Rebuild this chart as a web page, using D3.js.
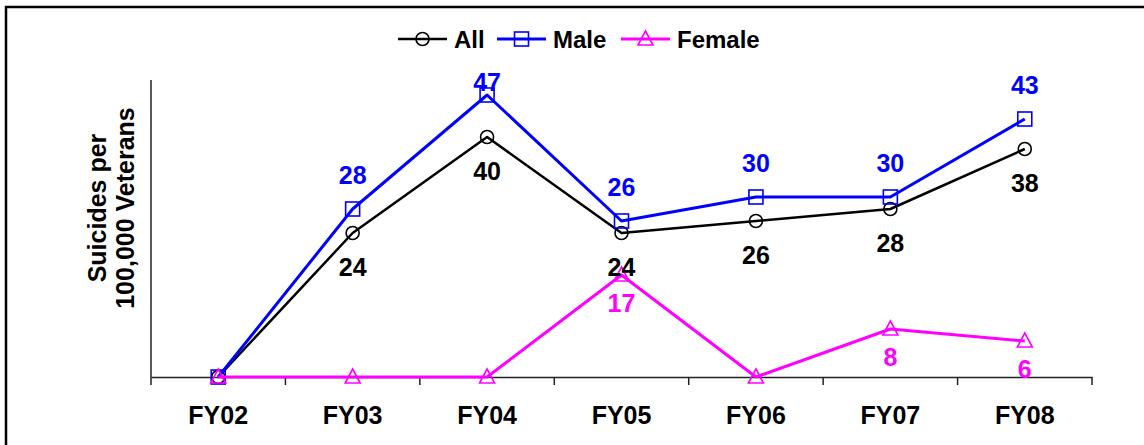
<!DOCTYPE html>
<html>
<head>
<meta charset="utf-8">
<script src="https://cdn.jsdelivr.net/npm/d3@7"></script>
<style>
  body { margin: 0; background: #fff; }
  text { font-family: Arial, "Liberation Sans", sans-serif; font-weight: bold; }
</style>
</head>
<body>
<svg id="fig" width="1144" height="445"></svg>
<script>
// chart values
const years = ["FY02", "FY03", "FY04", "FY05", "FY06", "FY07", "FY08"];
const allValues = [0, 24, 40, 24, 26, 28, 38];
const maleValues = [0, 28, 47, 26, 30, 30, 43];
const femaleValues = [0, 0, 0, 17, 0, 8, 6];
const seriesNames = ["All", "Male", "Female"];

const svg = d3.select("#fig");

// outer frame (runs off the right and bottom edges)
svg.append("rect")
    .attr("x", 6).attr("y", 7)
    .attr("width", 1160).attr("height", 460)
    .attr("fill", "none")
    .attr("stroke", "#000")
    .attr("stroke-width", 2.5);

const plotLeft = 151, plotRight = 1092, plotTop = 80, plotBottom = 377;

let xScale = d3.scaleBand()
    .domain(years)
    .range([plotLeft, plotRight]);

let yScale = d3.scaleLinear()
    .domain([0, 49.5])
    .range([plotBottom, plotTop]);

const cx = d => xScale(d) + xScale.bandwidth() / 2;

// axes
let xAxis = svg.append("g")
    .attr("transform", `translate(0,${plotBottom})`)
    .call(d3.axisBottom(xScale).tickSize(0).tickPadding(29));
xAxis.select(".domain").attr("stroke", "#222").attr("stroke-width", 1.5);
xAxis.selectAll("text")
    .attr("font-size", 25)
    .attr("fill", "#000");

// tick marks between categories
const boundaries = years.map(d => xScale(d)).concat([plotRight]);
svg.append("g").selectAll("line")
    .data(boundaries)
    .enter()
    .append("line")
    .attr("x1", d => d).attr("x2", d => d)
    .attr("y1", plotBottom).attr("y2", plotBottom + 8)
    .attr("stroke", "#222")
    .attr("stroke-width", 1.5);

svg.append("line")
    .attr("x1", plotLeft).attr("x2", plotLeft)
    .attr("y1", plotTop).attr("y2", plotBottom)
    .attr("stroke", "#222")
    .attr("stroke-width", 1.5);

// y title
const yTitle = svg.append("text")
    .attr("transform", "translate(106,208) rotate(-90)")
    .attr("text-anchor", "middle")
    .attr("font-size", 25)
    .attr("fill", "#000");
yTitle.append("tspan").attr("x", 0).attr("dy", 0).text("Suicides per");
yTitle.append("tspan").attr("x", 0).attr("dy", 28).text("100,000 Veterans");

const series = [
    { name: seriesNames[0], values: allValues, color: "#000000", marker: "circle", labelDy: 34, width: 2.5 },
    { name: seriesNames[1], values: maleValues, color: "#0000FF", marker: "square", labelDy: -34, width: 3 },
    { name: seriesNames[2], values: femaleValues, color: "#FF00FF", marker: "triangle", labelDy: 28, width: 3 }
];

function drawMarker(g, type, color) {
    if (type === "circle") {
        g.append("circle").attr("r", 6.5)
            .attr("fill", "none").attr("stroke", color).attr("stroke-width", 1.6);
    } else if (type === "square") {
        g.append("rect").attr("x", -7).attr("y", -7).attr("width", 14).attr("height", 14)
            .attr("fill", "none").attr("stroke", color).attr("stroke-width", 1.6);
    } else {
        g.append("path").attr("d", "M0,-8L7.5,6L-7.5,6Z")
            .attr("fill", "none").attr("stroke", color).attr("stroke-width", 1.6);
    }
}

const line = d3.line()
    .x((d, i) => cx(years[i]))
    .y(d => yScale(d));

series.forEach(s => {
    svg.append("path")
        .datum(s.values)
        .attr("d", line)
        .attr("fill", "none")
        .attr("stroke", s.color)
        .attr("stroke-width", s.width)
        .attr("stroke-linejoin", "round");

    s.values.forEach((v, i) => {
        let g = svg.append("g")
            .attr("transform", `translate(${cx(years[i])},${yScale(v)})`);
        drawMarker(g, s.marker, s.color);
    });
});

// data labels (zero values are not labelled)
series.forEach(s => {
    svg.append("g").selectAll("text")
        .data(s.values.map((v, i) => ({ v, i })).filter(d => d.v > 0))
        .enter()
        .append("text")
        .attr("x", d => cx(years[d.i]))
        .attr("y", d => Math.max(yScale(d.v) + s.labelDy, 82))
        .attr("dy", "0.36em")
        .attr("text-anchor", "middle")
        .attr("font-size", 25)
        .attr("fill", s.color)
        .text(d => d3.format("d")(d.v));
});

// legend
const legendX = [398, 497, 621];
const legend = svg.append("g").attr("transform", "translate(0,39)");
series.forEach((s, i) => {
    let lg = legend.append("g").attr("transform", `translate(${legendX[i]},0)`);
    lg.append("line")
        .attr("x1", 0).attr("x2", 49)
        .attr("stroke", s.color).attr("stroke-width", s.width);
    drawMarker(lg.append("g").attr("transform", "translate(24.5,0)"), s.marker, s.color);
    lg.append("text")
        .attr("x", 56)
        .attr("y", 8.5)
        .attr("font-size", 24)
        .attr("fill", "#000")
        .text(s.name);
});
</script>
</body>
</html>
